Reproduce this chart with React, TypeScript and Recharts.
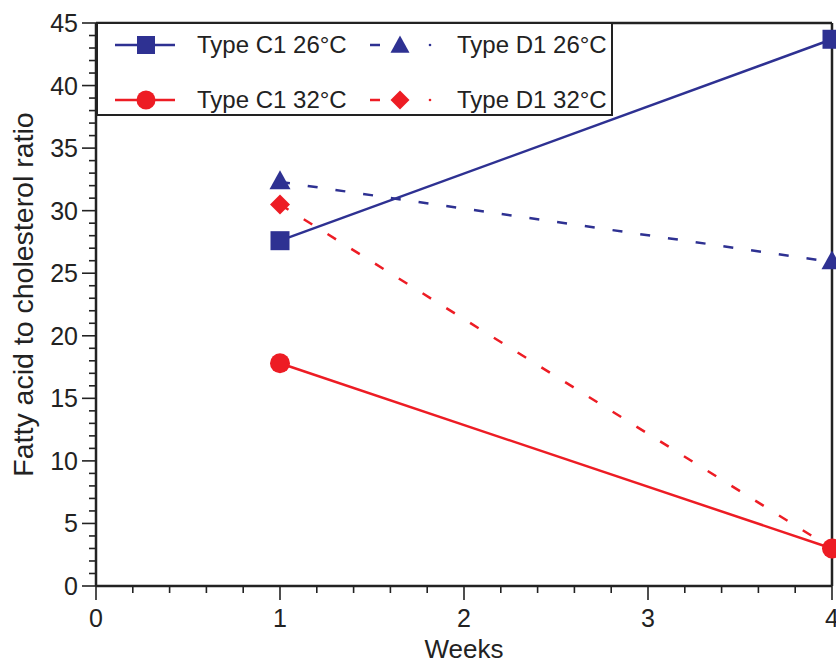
import { LineChart, Line, XAxis, YAxis, ReferenceLine, Legend, Label } from 'recharts';

const weeks = [1, 4];
const c1At26 = [27.6, 43.7];
const d1At26 = [32.3, 25.9];
const c1At32 = [17.8, 3.0];
const d1At32 = [30.5, 3.0];

const xMajorTicks = [0, 1, 2, 3, 4];
const xMinorTicks = [0.2, 0.4, 0.6, 0.8, 1.2, 1.4, 1.6, 1.8, 2.2, 2.4, 2.6, 2.8, 3.2, 3.4, 3.6, 3.8];
const yMajorTicks = [0, 5, 10, 15, 20, 25, 30, 35, 40, 45];
const yMinorTicks = [
  1, 2, 3, 4, 6, 7, 8, 9, 11, 12, 13, 14, 16, 17, 18, 19, 21, 22, 23, 24,
  26, 27, 28, 29, 31, 32, 33, 34, 36, 37, 38, 39, 41, 42, 43, 44,
];

const seriesNames = ['Type C1 26°C', 'Type D1 26°C', 'Type C1 32°C', 'Type D1 32°C'];

const BLUE = '#2e3192';
const RED = '#ed1c24';
const INK = '#222';
const FONT = '"Liberation Sans", Arial, sans-serif';

const data = weeks.map((w, i) => ({
  week: w,
  c1At26: c1At26[i],
  d1At26: d1At26[i],
  c1At32: c1At32[i],
  d1At32: d1At32[i],
}));

const allXTicks = [...xMajorTicks, ...xMinorTicks].sort((a, b) => a - b);
const allYTicks = [...yMajorTicks, ...yMinorTicks].sort((a, b) => a - b);

function XTick(props: any) {
  const { x, y, payload } = props;
  const major = xMajorTicks.includes(payload.value);
  return (
    <g>
      <line x1={x} x2={x} y1={y} y2={y + (major ? 14 : 7)} stroke={INK} strokeWidth={1.6} />
      {major && (
        <text x={x} y={y + 41} textAnchor="middle" fontSize={25} fontFamily={FONT} fill={INK}>
          {payload.value}
        </text>
      )}
    </g>
  );
}

function YTick(props: any) {
  const { x, y, payload } = props;
  const major = yMajorTicks.includes(payload.value);
  return (
    <g>
      <line x1={x - (major ? 14 : 7)} x2={x} y1={y} y2={y} stroke={INK} strokeWidth={1.6} />
      {major && (
        <text x={x - 18} y={y + 9} textAnchor="end" fontSize={25} fontFamily={FONT} fill={INK}>
          {payload.value}
        </text>
      )}
    </g>
  );
}

// markers
const square = (color: string, s: number) => (p: any) =>
  p.cx == null ? <g key={p.key} /> : (
    <rect key={p.key} x={p.cx - s / 2} y={p.cy - s / 2} width={s} height={s} fill={color} />
  );
const circle = (color: string, r: number) => (p: any) =>
  p.cx == null ? <g key={p.key} /> : <circle key={p.key} cx={p.cx} cy={p.cy} r={r} fill={color} />;
const triangle = (color: string, w: number) => (p: any) =>
  p.cx == null ? <g key={p.key} /> : (
    <polygon
      key={p.key}
      points={`${p.cx},${p.cy - w * 0.55} ${p.cx + w / 2},${p.cy + w * 0.35} ${p.cx - w / 2},${p.cy + w * 0.35}`}
      fill={color}
    />
  );
const diamond = (color: string, s: number) => (p: any) =>
  p.cx == null ? <g key={p.key} /> : (
    <polygon
      key={p.key}
      points={`${p.cx},${p.cy - s / 2} ${p.cx + s / 2},${p.cy} ${p.cx},${p.cy + s / 2} ${p.cx - s / 2},${p.cy}`}
      fill={color}
    />
  );

function LegendBox() {
  const rows = [23, 78];
  const text = (x: number, y: number, s: string) => (
    <text x={x} y={y + 8} fontSize={24} fontFamily={FONT} fill={INK}>
      {s}
    </text>
  );
  return (
    <svg width={518} height={95} style={{ display: 'block' }}>
      <rect x={1} y={1} width={515} height={92} fill="#fff" stroke={INK} strokeWidth={2} />
      <line x1={19} x2={79} y1={rows[0]} y2={rows[0]} stroke={BLUE} strokeWidth={2.5} />
      {square(BLUE, 18)({ cx: 50, cy: rows[0], key: 'a' })}
      {text(101, rows[0], seriesNames[0])}
      <line x1={274} x2={284} y1={rows[0]} y2={rows[0]} stroke={BLUE} strokeWidth={2.5} />
      {triangle(BLUE, 19)({ cx: 304, cy: rows[0] + 1, key: 'b' })}
      <circle cx={334} cy={rows[0]} r={1.3} fill={BLUE} />
      {text(361, rows[0], seriesNames[1])}
      <line x1={19} x2={79} y1={rows[1]} y2={rows[1]} stroke={RED} strokeWidth={2.5} />
      {circle(RED, 9.5)({ cx: 50, cy: rows[1], key: 'c' })}
      {text(101, rows[1], seriesNames[2])}
      <line x1={274} x2={284} y1={rows[1]} y2={rows[1]} stroke={RED} strokeWidth={2.5} />
      {diamond(RED, 19)({ cx: 304, cy: rows[1], key: 'd' })}
      <circle cx={334} cy={rows[1]} r={1.3} fill={RED} />
      {text(361, rows[1], seriesNames[3])}
    </svg>
  );
}

export default function App() {
  return (
    <div style={{ position: 'absolute', left: 0, top: 0 }}>
      <LineChart width={836} height={666} data={data} margin={{ top: 23, right: 4, bottom: 0, left: 0 }}>
        <XAxis
          dataKey="week"
          type="number"
          domain={[0, 4]}
          ticks={allXTicks}
          interval={0}
          tickSize={0}
          tickMargin={0}
          tickLine={false}
          tick={(p: any) => <XTick {...p} />}
          axisLine={{ stroke: INK, strokeWidth: 2.5 }}
          height={80}
        >
          <Label
            content={({ viewBox }: any) => (
              <text
                x={viewBox.x + viewBox.width / 2}
                y={658}
                textAnchor="middle"
                fontSize={26}
                fontFamily={FONT}
                fill={INK}
              >
                Weeks
              </text>
            )}
          />
        </XAxis>
        <YAxis
          type="number"
          domain={[0, 45]}
          ticks={allYTicks}
          interval={0}
          tickSize={0}
          tickMargin={0}
          tickLine={false}
          tick={(p: any) => <YTick {...p} />}
          axisLine={{ stroke: INK, strokeWidth: 2.5 }}
          width={96}
        >
          <Label
            content={({ viewBox }: any) => {
              const cx = 23;
              const cy = viewBox.y + viewBox.height / 2 - 10;
              return (
                <text
                  x={cx}
                  y={cy}
                  transform={`rotate(-90 ${cx} ${cy})`}
                  textAnchor="middle"
                  dominantBaseline="central"
                  fontSize={28.5}
                  fontFamily={FONT}
                  fill={INK}
                >
                  Fatty acid to cholesterol ratio
                </text>
              );
            }}
          />
        </YAxis>
        <ReferenceLine y={45} stroke={INK} strokeWidth={2.5} />
        <ReferenceLine x={4} stroke={INK} strokeWidth={2.5} />
        <Line
          dataKey="d1At26"
          stroke={BLUE}
          strokeWidth={2.5}
          strokeDasharray="10 18"
          dot={triangle(BLUE, 21)}
          isAnimationActive={false}
        />
        <Line
          dataKey="d1At32"
          stroke={RED}
          strokeWidth={2.5}
          strokeDasharray="10 18"
          dot={diamond(RED, 20)}
          isAnimationActive={false}
        />
        <Line dataKey="c1At26" stroke={BLUE} strokeWidth={2.5} dot={square(BLUE, 19)} isAnimationActive={false} />
        <Line dataKey="c1At32" stroke={RED} strokeWidth={2.5} dot={circle(RED, 10)} isAnimationActive={false} />
        <Legend
          layout="horizontal"
          align="center"
          verticalAlign="middle"
          content={() => <LegendBox />}
          wrapperStyle={{ left: 96, top: 22, width: 518, height: 95 }}
        />
      </LineChart>
    </div>
  );
}
